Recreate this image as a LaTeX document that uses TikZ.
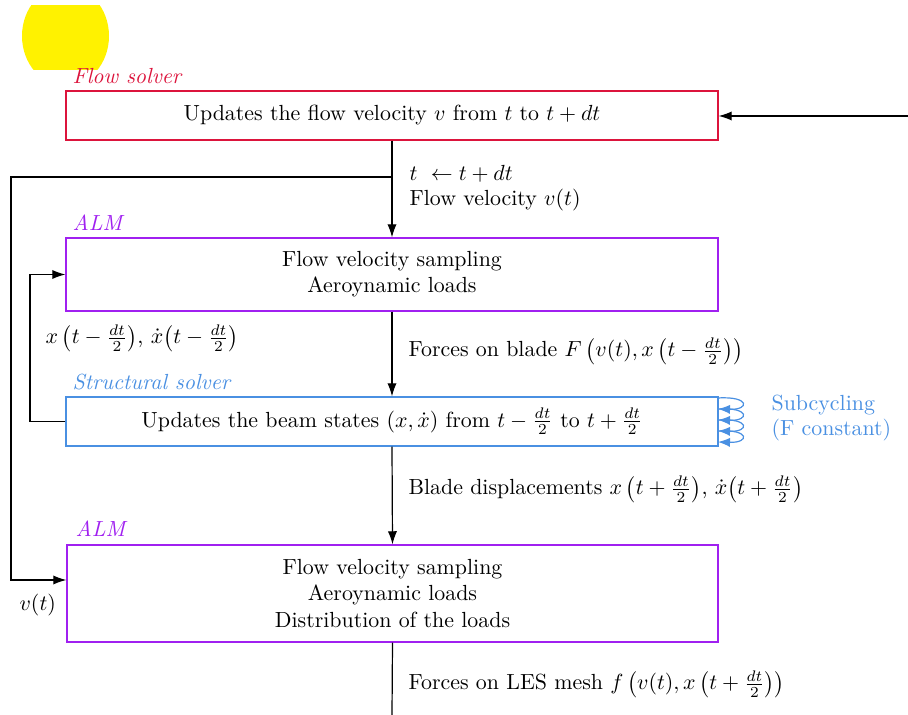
\documentclass[tikz,border=0pt]{standalone}
\usetikzlibrary{arrows.meta}
\definecolor{flowred}{RGB}{220,20,60}
\definecolor{almpurple}{RGB}{160,32,240}
\definecolor{structblue}{RGB}{74,144,226}
\tikzset{
  arr/.style={-{Latex[length=6pt,width=4.2pt]}},
  subarr/.style={-{Latex[length=5.5pt,width=4.2pt]},structblue},
  box/.style={draw,minimum width=652*0.457pt,align=center,inner sep=0pt},
  tag/.style={anchor=base west,inner sep=0pt,font=\itshape},
  lab/.style={anchor=base west,inner sep=0pt,align=left},
}
\begin{document}
\begin{tikzpicture}[x=0.457pt,y=-0.457pt,line width=0.55pt]
\useasboundingbox (0,0) rectangle (908,715);
% yellow shape
\begin{scope}
\clip (0,6) rectangle (130,69.5);
\fill[yellow] (65.5,36) ellipse [x radius=43.5, y radius=50];
\end{scope}
% boxes
\node[box,draw=flowred,minimum height=49*0.457pt] (flow) at (392,115.5)
  {Updates the flow velocity $v$ from $t$ to $t+dt$};
\node[tag,text=flowred] (flowtag) at (72,84) {Flow solver};
\node[box,draw=almpurple,minimum height=73*0.457pt] (alm1) at (392,274.5)
  {Flow velocity sampling\\Aeroynamic loads};
\node[tag,text=almpurple] (alm1tag) at (72,231) {ALM};
\node[box,draw=structblue,minimum height=49*0.457pt] (struct) at (392,421.5)
  {Updates the beam states $(x,\dot{x})$ from $t-\frac{dt}{2}$ to $t+\frac{dt}{2}$};
\node[tag,text=structblue] (structtag) at (72,390) {Structural solver};
\node[box,draw=almpurple,minimum width=651*0.457pt,minimum height=97*0.457pt] (alm2) at (392.5,593.5)
  {Flow velocity sampling\\Aeroynamic loads\\Distribution of the loads};
\node[tag,text=almpurple] (alm2tag) at (75,537) {ALM};
% connectors
\coordinate (in) at (908,116);
\draw[arr] (in) -- (flow.east |- in);
\draw[arr] (flow.south) -- (alm1.north);
\coordinate (b1) at (392,177);
\coordinate (b2) at (11,177);
\coordinate (b3) at (11,580);
\draw[arr] (b1) -- (b2) -- (b3) -- (b3 -| alm2.west);
\coordinate (fb1) at (30,421.5);
\draw[arr] (struct.west) -- (fb1) |- (alm1.west);
\draw[arr] (alm1.south) -- (struct.north);
\draw[arr] (struct.south) -- (alm2.north);
\coordinate (out) at (392,715);
\draw (alm2.south) -- (out);
% subcycling loops
\foreach \y in {398,409,420,431}{
  \draw[subarr] (718,\y) .. controls (750,\y-2) and (750,\y+12) .. (718,\y+11);
}
% labels
\node[lab] (l1) at (409,181) {$t\ \leftarrow t+dt$};
\node[lab] (l2) at (409,206) {Flow velocity $v(t)$};
\node[lab] (l3) at (408,357) {Forces on blade $F\left(v(t), x\left(t-\frac{dt}{2}\right)\right)$};
\node[lab] (l4) at (408,495) {Blade displacements $x\left(t+\frac{dt}{2}\right)$, $\dot{x}\!\left(t+\frac{dt}{2}\right)$};
\node[lab] (l5) at (408,690) {Forces on LES mesh $f\left(v(t), x\left(t+\frac{dt}{2}\right)\right)$};
\node[lab] (l6) at (45,344) {$x\left(t-\frac{dt}{2}\right)$, $\dot{x}\!\left(t-\frac{dt}{2}\right)$};
\node[lab] (l7) at (19,611) {$v(t)$};
\node[lab,text=structblue] (l8) at (771,411) {Subcycling};
\node[lab,text=structblue] (l9) at (771,436) {(F constant)};
\end{tikzpicture}
\end{document}
